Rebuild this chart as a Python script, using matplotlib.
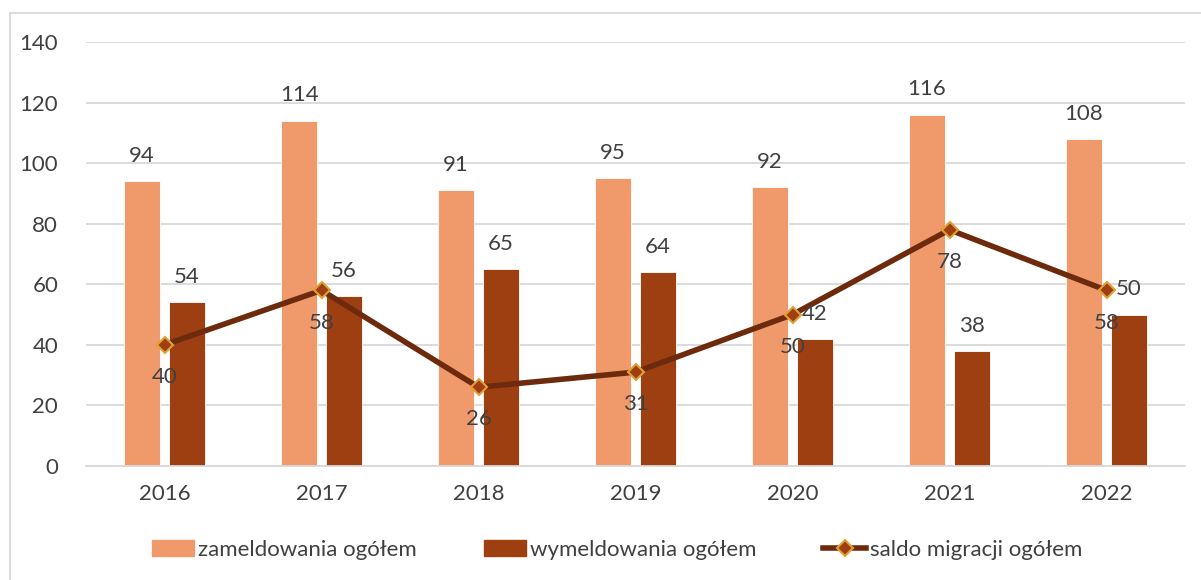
import matplotlib.pyplot as plt
import numpy as np
from matplotlib.lines import Line2D

years = ['2016', '2017', '2018', '2019', '2020', '2021', '2022']
zameldowania = [94, 114, 91, 95, 92, 116, 108]
wymeldowania = [54, 56, 65, 64, 42, 38, 50]
saldo = [40, 58, 26, 31, 50, 78, 58]

c_zam = '#F0996B'
c_wym = '#9E3F12'
c_line = '#6E2A0C'
c_mark_edge = '#E3A032'
c_text = '#404040'
fs = 16

plt.rcParams['font.family'] = ['Lato', 'DejaVu Sans']

fig = plt.figure(figsize=(12.01, 5.80), dpi=100)
ax = fig.add_axes([86 / 1201, 1 - 466 / 580, (1185 - 86) / 1201, (466 - 42) / 580])

x = np.arange(len(years))
w = 0.23
off = 0.143
ax.bar(x - off, zameldowania, w, color=c_zam, edgecolor='white', linewidth=0.6, zorder=2)
ax.bar(x + off, wymeldowania, w, color=c_wym, edgecolor='white', linewidth=0.6, zorder=2)
ax.plot(x, saldo, color=c_line, linewidth=4, marker='D', markersize=8,
        markerfacecolor=c_wym, markeredgecolor=c_mark_edge, markeredgewidth=1.5, zorder=3)

for i in range(len(years)):
    ax.annotate(str(zameldowania[i]), (x[i] - off, zameldowania[i]), xytext=(0, 11),
                textcoords='offset points', ha='center', va='bottom', fontsize=fs, color=c_text)
    ax.annotate(str(wymeldowania[i]), (x[i] + off, wymeldowania[i]), xytext=(0, 11),
                textcoords='offset points', ha='center', va='bottom', fontsize=fs, color=c_text)
    ax.annotate(str(saldo[i]), (x[i], saldo[i]), xytext=(0, -16),
                textcoords='offset points', ha='center', va='top', fontsize=fs, color=c_text)

ax.set_xlim(-0.5, len(years) - 0.5)
ax.set_ylim(0, 140)
ax.set_yticks(range(0, 141, 20))
ax.set_xticks(x)
ax.set_xticklabels(years)
ax.yaxis.grid(True, color='#D9D9D9', linewidth=1.3, zorder=0)
ax.set_axisbelow(True)
for s in ['top', 'right', 'left']:
    ax.spines[s].set_visible(False)
ax.spines['bottom'].set_color('#D9D9D9')
ax.spines['bottom'].set_linewidth(1.3)
ax.tick_params(axis='both', length=0, labelsize=fs, labelcolor=c_text)
ax.tick_params(axis='y', pad=20)
ax.tick_params(axis='x', pad=13)

handles = [
    plt.Rectangle((0, 0), 1, 1, color=c_zam),
    plt.Rectangle((0, 0), 1, 1, color=c_wym),
    Line2D([0], [0], color=c_line, linewidth=4, marker='D', markersize=8,
           markerfacecolor=c_wym, markeredgecolor=c_mark_edge, markeredgewidth=1.5),
]
labels = ['zameldowania ogółem', 'wymeldowania ogółem', 'saldo migracji ogółem']
fig.legend(handles, labels, loc='center', bbox_to_anchor=(617 / 1201, 1 - 550 / 580),
           ncol=3, frameon=False, fontsize=fs, labelcolor=c_text,
           handlelength=1.9, handletextpad=0.2, columnspacing=3.0)

# ramka wykresu (widoczna tylko lewa i górna krawędź)
fig.add_artist(Line2D([10 / 1201, 10 / 1201], [0, 1 - 13 / 580], color='#D9D9D9', linewidth=1.3))
fig.add_artist(Line2D([10 / 1201, 1], [1 - 13 / 580, 1 - 13 / 580], color='#D9D9D9', linewidth=1.3))

plt.savefig('out.png', dpi=100)
